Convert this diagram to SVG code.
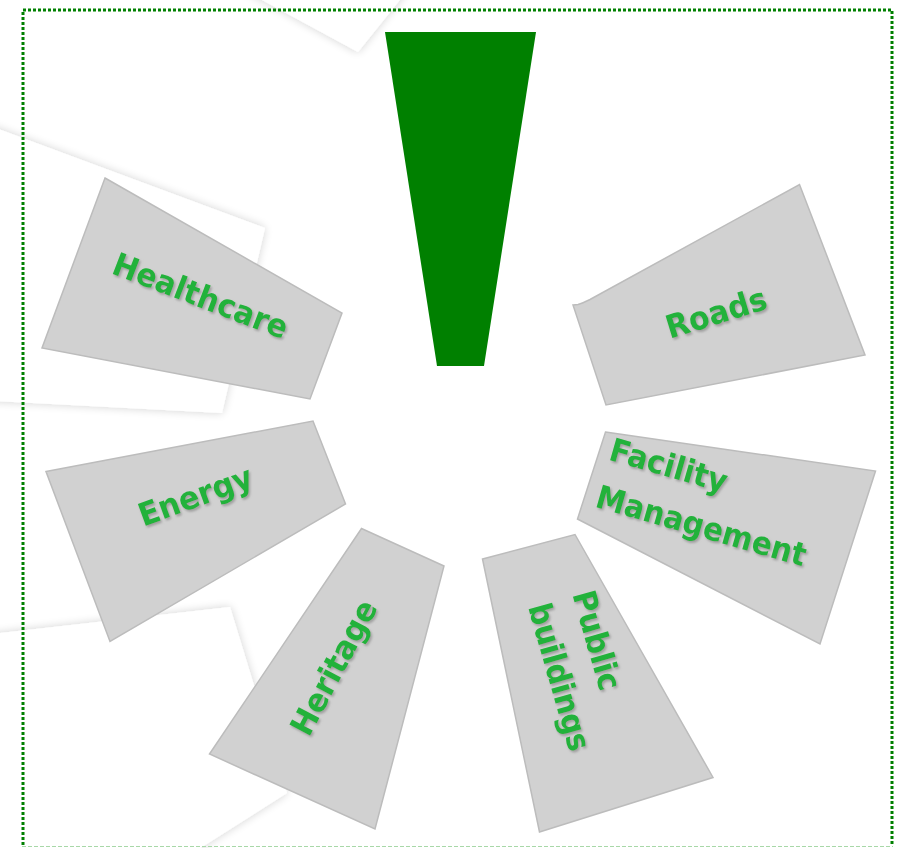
<svg xmlns="http://www.w3.org/2000/svg" width="904" height="848" viewBox="0 0 904 848">
  <defs>
    <filter id="soft" x="-20%" y="-20%" width="140%" height="140%">
      <feGaussianBlur in="SourceAlpha" stdDeviation="5"/>
      <feComponentTransfer><feFuncA type="linear" slope="0.18"/></feComponentTransfer>
      <feMerge><feMergeNode/><feMergeNode in="SourceGraphic"/></feMerge>
    </filter>
    <filter id="tshadow" x="-10%" y="-10%" width="120%" height="120%">
      <feDropShadow dx="1.5" dy="2" stdDeviation="0.8" flood-color="#8a8a8a" flood-opacity="0.7"/>
    </filter>
  </defs>
  <style>
    .sheet { fill: #ffffff; }
    .blade { fill: #d1d1d1; stroke: #bcbcbc; stroke-width: 1.5; stroke-linejoin: miter; }
    .lbl { font-family: "DejaVu Sans", Verdana, sans-serif; font-weight: bold; font-size: 32px; fill: #20b23a; }
    .frame { fill: none; stroke: #008000; stroke-width: 3; stroke-dasharray: 3 2; }
  </style>
  <rect width="904" height="848" fill="#ffffff"/>
  <!-- background paper sheets -->
  <g id="papers" filter="url(#soft)">
    <polygon class="sheet" points="358,52 170,-50 250,-160 440,-50"/>
    <polygon class="sheet" points="-80,100 265,228 222,413 -80,397"/>
    <polygon class="sheet" points="-80,642 230,607 287,793 150,880 -80,880"/>
  </g>
  <!-- frame -->
  <path class="frame" d="M23,845 L23,10 L892,10 L892,845"/>
  <line x1="22" y1="846.5" x2="893" y2="846.5" stroke="#a8d8a8" stroke-width="1" stroke-dasharray="4 2"/>
  <!-- central wedge -->
  <g id="wedge">
    <polygon points="385,32 536,32 484,366 437,366" fill="#008000"/>
  </g>
  <g id="healthcare">
    <polygon class="blade" points="105,178 342,313 310,399 42,348"/>
    <g filter="url(#tshadow)"><text class="lbl" text-anchor="middle" transform="translate(201,295) rotate(21)" x="0" y="12" textLength="185" lengthAdjust="spacingAndGlyphs">Healthcare</text></g>
  </g>
  <g id="roads">
    <path class="blade" d="M573,305 L578,304.5 Q582,303.5 590,299.5 L799.5,184.5 L865,355 L606,405 Z"/>
    <g filter="url(#tshadow)"><text class="lbl" text-anchor="middle" transform="translate(716,312) rotate(-17)" x="0" y="12" textLength="104" lengthAdjust="spacingAndGlyphs">Roads</text></g>
  </g>
  <g id="energy">
    <polygon class="blade" points="46,471.5 313,421 345.5,504 110,641.5"/>
    <g filter="url(#tshadow)"><text class="lbl" text-anchor="middle" transform="translate(195,495) rotate(-20)" x="0" y="12" textLength="119" lengthAdjust="spacingAndGlyphs">Energy</text></g>
  </g>
  <g id="heritage">
    <polygon class="blade" points="361.5,528.5 444,566 375,829 209.5,754"/>
    <g filter="url(#tshadow)"><text class="lbl" text-anchor="middle" transform="translate(333,667) rotate(-62)" x="0" y="12" textLength="148" lengthAdjust="spacingAndGlyphs">Heritage</text></g>
  </g>
  <g id="public-buildings">
    <polygon class="blade" points="482.5,559 575,534.5 713,777.5 539.5,832"/>
    <g filter="url(#tshadow)"><text class="lbl" transform="translate(528,607) rotate(74)"><tspan x="0" y="-46" textLength="102" lengthAdjust="spacingAndGlyphs">Public</tspan><tspan x="0" y="0" textLength="152" lengthAdjust="spacingAndGlyphs">buildings</tspan></text></g>
  </g>
  <g id="facility-management">
    <polygon class="blade" points="605.5,432 875.5,471 820,644 577.5,519"/>
    <g filter="url(#tshadow)"><text class="lbl" transform="translate(594,506.5) rotate(16)"><tspan x="0" y="-49" textLength="121" lengthAdjust="spacingAndGlyphs">Facility</tspan><tspan x="0" y="0" textLength="217" lengthAdjust="spacingAndGlyphs">Management</tspan></text></g>
  </g>
  <g id="connectors"/>
</svg>
